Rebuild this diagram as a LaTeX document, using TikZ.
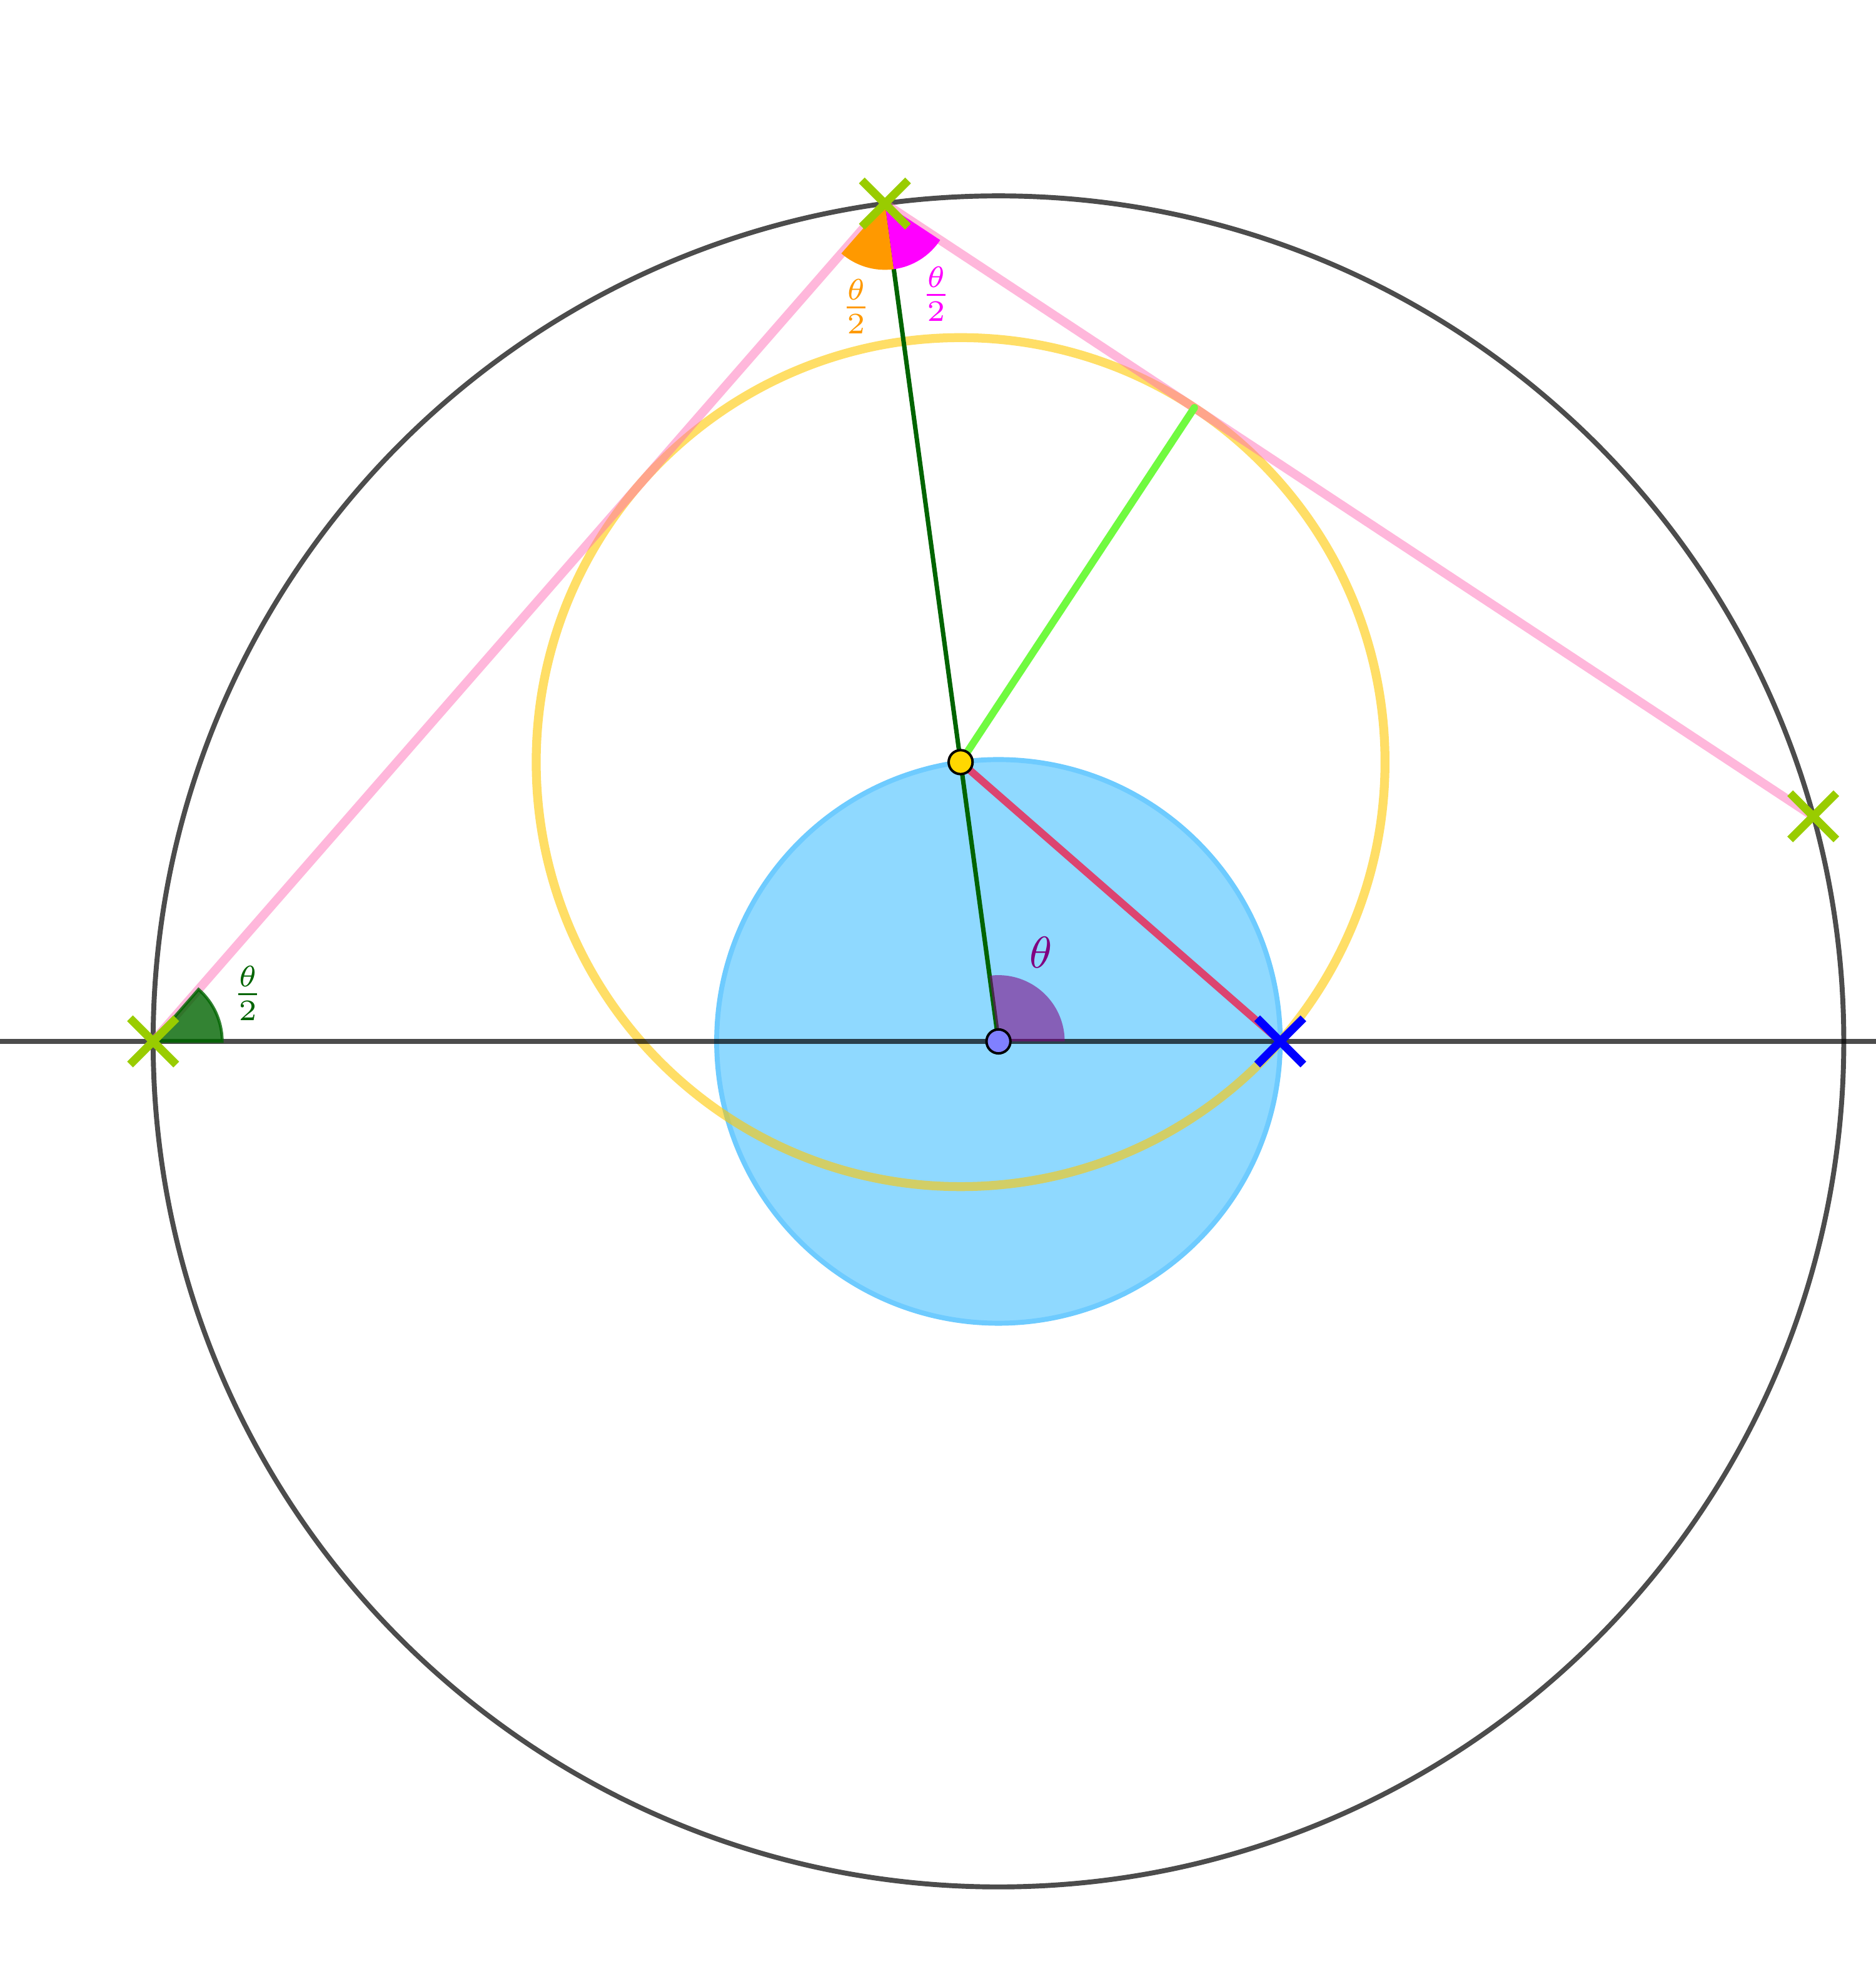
\documentclass[tikz,border=0pt]{standalone}
\usetikzlibrary{calc}
\definecolor{dgray}{RGB}{0,0,0}
\definecolor{skyfill}{RGB}{143,217,255}
\definecolor{skyedge}{RGB}{110,203,255}
\definecolor{goldc}{RGB}{255,200,0}
\definecolor{pinkc}{RGB}{255,105,180}
\definecolor{crims}{RGB}{220,68,112}
\definecolor{lgreen}{RGB}{112,250,64}
\definecolor{dgreen}{RGB}{0,100,0}
\definecolor{limec}{RGB}{153,204,0}
\definecolor{orangec}{RGB}{255,153,0}
\definecolor{magc}{RGB}{255,0,255}
\definecolor{purp}{RGB}{128,0,128}
\definecolor{ptblue}{RGB}{128,128,255}
\definecolor{ptgold}{RGB}{255,215,0}
\begin{document}
\begin{tikzpicture}[
  axisline/.style={draw=dgray,draw opacity=0.7,line width=1pt},
  pinkline/.style={draw=pinkc,draw opacity=0.48,line width=1.8pt},
  crossmark/.style={line width=1.65pt},
  ptmark/.style={circle,draw=black,line width=0.5pt,inner sep=0pt,minimum size=0.17cm},
  lab/.style={font=\fontsize{8.8}{10}\selectfont,inner sep=0pt}
]
\pgfmathsetmacro\th{97.72}
\pgfmathsetmacro\ry{4*sin(\th/2)}
\pgfmathsetmacro\qa{2*\th-180}
\useasboundingbox (-7.087,-6.618) rectangle (6.228,7.390);
\coordinate (O) at (0,0);
\coordinate (L) at (-6,0);
\coordinate (T) at (\th:6);
\coordinate (P) at (\th:2);
\coordinate (B) at (2,0);
\coordinate (Q) at (\qa:6);
\coordinate (F) at ($(T)!(P)!(Q)$);
\coordinate (W) at (-7.087,0);
\coordinate (E) at (6.228,0);
% blue disc
\draw[fill=skyfill,draw=skyedge,line width=1pt] (O) circle[radius=2];
% yellow circle
\draw[draw=goldc,draw opacity=0.6,line width=1.8pt] (P) circle[radius=\ry];
% big circle and axis
\draw[axisline] (O) circle[radius=6];
\draw[axisline] (W) -- (E);
% pink chords
\draw[pinkline] (L) -- (T) -- (Q);
% segments
\draw[draw=crims,line width=1.5pt,line cap=round] (P) -- (B);
\draw[draw=dgreen,line width=0.9pt] (T) -- (O);
\draw[draw=lgreen,line width=1.5pt,line cap=round] (P) -- (F);
% angle sectors
\fill[purp,opacity=0.56] (O) -- ++(0:0.47) arc[start angle=0,end angle=\th,radius=0.47] -- cycle;
\filldraw[fill=dgreen,fill opacity=0.8,draw=dgreen,draw opacity=0.8,line width=0.6pt] (L) -- ++(0:0.49) arc[start angle=0,end angle=\th/2,radius=0.49] -- cycle;
\fill[orangec] (T) -- ++({180+\th/2}:0.47) arc[start angle={180+\th/2},end angle={180+\th},radius=0.47] -- cycle;
\fill[magc] (T) -- ++({180+\th}:0.47) arc[start angle={180+\th},end angle={180+1.5*\th},radius=0.47] -- cycle;
% points
\node[ptmark,fill=ptblue] (Op) at (O) {};
\node[ptmark,fill=ptgold] (Pp) at (P) {};
% crosses
\foreach \c in {L,T,Q}{
  \draw[crossmark,limec] ($(\c)+(-0.164,-0.164)$) -- ($(\c)+(0.164,0.164)$);
  \draw[crossmark,limec] ($(\c)+(-0.164,0.164)$) -- ($(\c)+(0.164,-0.164)$);
}
\draw[crossmark,blue] ($(B)+(-0.164,-0.164)$) -- ($(B)+(0.164,0.164)$);
\draw[crossmark,blue] ($(B)+(-0.164,0.164)$) -- ($(B)+(0.164,-0.164)$);
% labels
\node[lab,text=purp] (lth) at (0.303,0.630) {$\theta$};
\node[lab,text=dgreen] (lg) at ($(L)+(0.671,0.342)$) {$\frac{\theta}{2}$};
\node[lab,text=orangec] (lo) at ($(T)+(-0.205,-0.730)$) {$\frac{\theta}{2}$};
\node[lab,text=magc] (lm) at ($(T)+(0.363,-0.641)$) {$\frac{\theta}{2}$};
\end{tikzpicture}
\end{document}
